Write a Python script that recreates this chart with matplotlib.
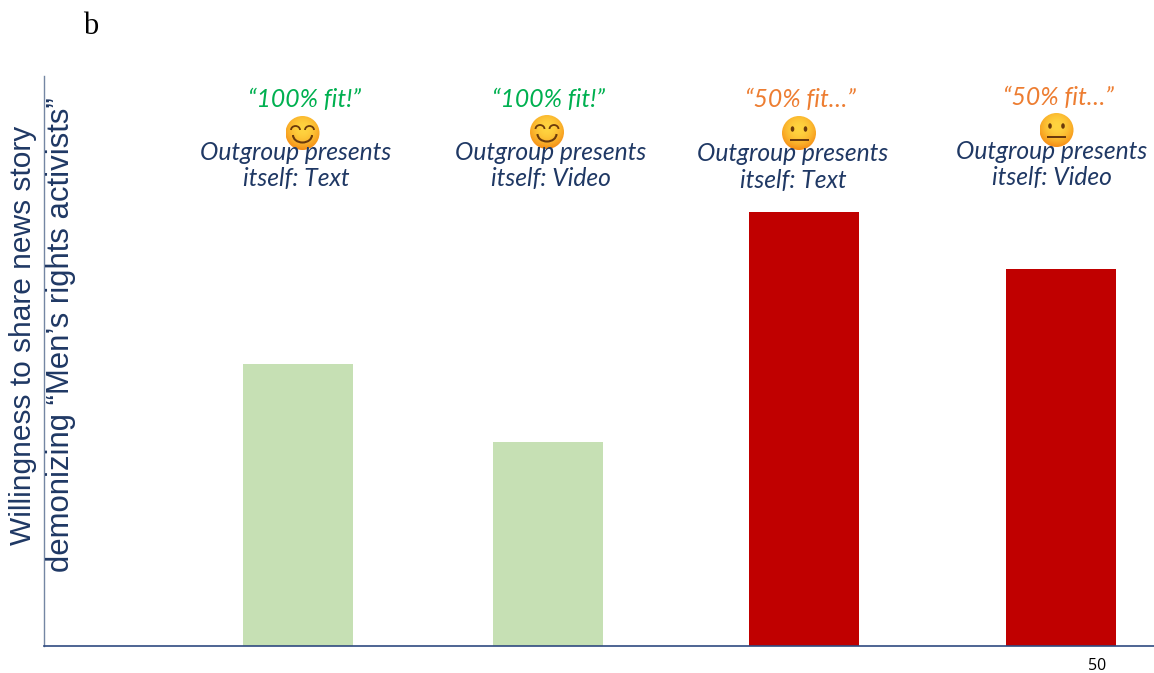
#!/usr/bin/env python3
"""Share-willingness bars by outgroup fit, with labels and emoji above each bar."""
import matplotlib
matplotlib.use("Agg")
import matplotlib.pyplot as plt
from matplotlib.patches import Arc, Circle, Ellipse, Rectangle
import numpy as np

# ---- data ----
values = [282, 204, 434, 377]
fit_labels = ["\u201c100% fit!\u201d", "\u201c100% fit!\u201d", "\u201c50% fit\u2026\u201d", "\u201c50% fit\u2026\u201d"]
cond_labels = ["Outgroup presents\nitself: Text", "Outgroup presents\nitself: Video",
               "Outgroup presents\nitself: Text", "Outgroup presents\nitself: Video"]
moods = ["happy", "happy", "neutral", "neutral"]
ylabel_lines = ["Willingness to share news story",
                "demonizing \u201cMen\u2019s rights activists\u201d"]

NAVY = "#1F3864"
W, H = 1154, 673

fig = plt.figure(figsize=(W / 100, H / 100), dpi=100, facecolor="white")

# ---- bars ----
ax = fig.add_axes([44 / W, 1 - 646 / H, (W - 44) / W, 570 / H])
ax.set_xlim(44, W)
ax.set_ylim(0, 570)
bar_x = [297.5, 548, 804, 1060.5]
bar_colors = ["#C6E0B4", "#C6E0B4", "#C00000", "#C00000"]
ax.bar(bar_x, values, width=110, color=bar_colors, linewidth=0)
for s in ["top", "right"]:
    ax.spines[s].set_visible(False)
ax.spines["left"].set_color("#7486A3")
ax.spines["left"].set_linewidth(1.0)
ax.spines["bottom"].set_color("#2F4A80")
ax.spines["bottom"].set_linewidth(1.2)
ax.set_xticks([])
ax.set_yticks([])

# ---- overlay in pixel coordinates for text and emoji ----
ov = fig.add_axes([0, 0, 1, 1], facecolor="none")
ov.set_xlim(0, W)
ov.set_ylim(H, 0)
ov.axis("off")

# radial shading for the emoji faces
yy, xx = np.mgrid[-1:1:64j, -1:1:64j]
rr = np.clip(np.hypot(xx, yy + 0.25) / 1.25, 0, 1)
c_in, c_out = np.array([1.0, 0.83, 0.25]), np.array([0.96, 0.55, 0.08])
shade = c_in + (c_out - c_in) * (rr[..., None] ** 2)


def emoji(cx, cy, mood, r=17):
    # y axis is inverted here, so theta 0-180 is the lower half on screen
    im = ov.imshow(shade, extent=(cx - r, cx + r, cy + r, cy - r), zorder=2,
                   interpolation="bilinear", aspect="auto")
    im.set_clip_path(Circle((cx, cy), r, transform=ov.transData))
    ink = "#6B3A0C"
    if mood == "happy":
        for dx in (-7, 7):
            ov.add_patch(Arc((cx + dx, cy - 3), 9, 8, theta1=180, theta2=360,
                             color=ink, lw=1.3, zorder=3))
        ov.add_patch(Arc((cx, cy + 2), 19, 15, theta1=0, theta2=180,
                         color=ink, lw=1.5, zorder=3))
    else:
        for dx in (-6.5, 6.5):
            ov.add_patch(Ellipse((cx + dx, cy - 4), 3.6, 5.5, color=ink, lw=0, zorder=3))
        ov.add_patch(Rectangle((cx - 9.5, cy + 6), 19, 1.6, color=ink, lw=0, zorder=3))


fit_colors = ["#00B050", "#00B050", "#ED7D31", "#ED7D31"]
fit_x = [304, 548, 800, 1058]
fit_y = [100, 100, 100, 98]
emoji_x = [302.5, 547, 799, 1056.5]
emoji_y = [133, 132, 133, 130]
cond_x = [296, 551, 793, 1052]
cond_y = [165.5, 165.5, 167, 164.5]

for i in range(4):
    ov.text(fit_x[i], fit_y[i], fit_labels[i], color=fit_colors[i], family="Lato",
            style="italic", fontsize=17.8, ha="center", va="center", zorder=5)
    emoji(emoji_x[i], emoji_y[i], moods[i])
    ov.text(cond_x[i], cond_y[i], cond_labels[i], color=NAVY, family="Lato",
            style="italic", fontsize=17.7, ha="center", va="center",
            linespacing=1.2, zorder=5)

# ---- axis title, panel letter, page number ----
ov.text(23, 335, ylabel_lines[0], rotation=90, color=NAVY, family="Liberation Sans",
        fontsize=21.5, ha="center", va="center")
ov.text(61, 335, ylabel_lines[1], rotation=90, color=NAVY, family="Liberation Sans",
        fontsize=22.4, ha="center", va="center")
ov.text(83, 26, "b", color="black", family="Liberation Serif", fontsize=22,
        ha="left", va="center")
ov.text(1097, 666, "50", color="black", family="Open Sans", fontsize=11.5,
        ha="center", va="center")

fig.savefig("out.png", dpi=100)
